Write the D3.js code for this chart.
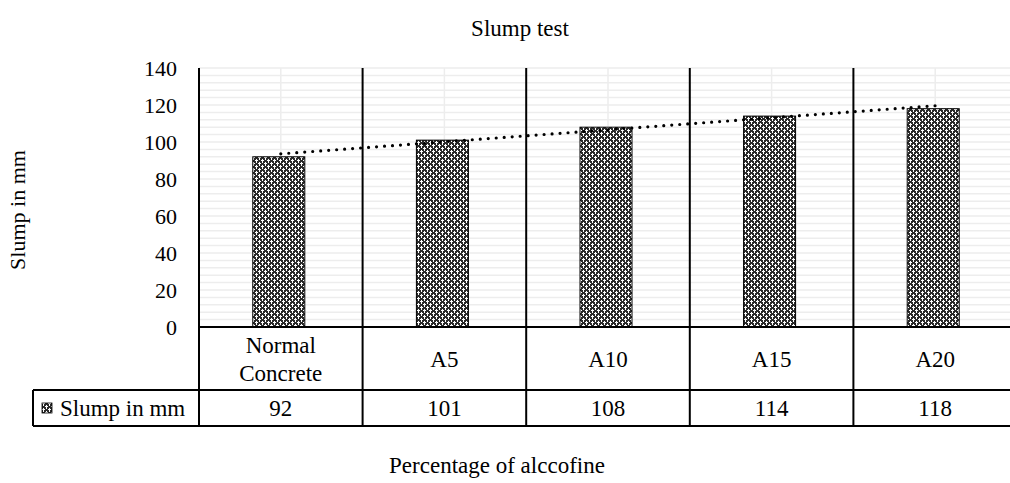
<!DOCTYPE html>
<html><head><meta charset="utf-8">
<script src="https://cdn.jsdelivr.net/npm/d3@7"></script>
<style>body{margin:0;background:#fff}svg{display:block}</style>
</head><body>
<svg id="c" width="1010" height="483" font-family="'Liberation Serif', 'Times New Roman', Times, serif"></svg>
<script>
const categories = [["Normal","Concrete"],["A5"],["A10"],["A15"],["A20"]];
const categoryKeys = ["Normal Concrete","A5","A10","A15","A20"];
const slumpValues = [92,101,108,114,118];
const yTicks = [0,20,40,60,80,100,120,140];
const seriesName = "Slump in mm";
const chartTitle = "Slump test";
const xTitle = "Percentage of alccofine";
const yTitle = "Slump in mm";

const svg = d3.select("#c");
const L = 199, R = 1017, T = 68, B = 327;
const row1 = 390, row2 = 426, legendLeft = 33;

const defs = svg.append("defs");
const pat = defs.append("pattern").attr("id","pat").attr("patternUnits","userSpaceOnUse").attr("width",6).attr("height",6);
pat.append("rect").attr("width",6).attr("height",6).attr("fill","#2a2a2a");
[[1,0,1,3],[0,1,3,1],[4,3,1,3],[3,4,3,1],[4,0,1,1],[1,3,1,1]].forEach(r=>pat.append("rect").attr("x",r[0]).attr("y",r[1]).attr("width",r[2]).attr("height",r[3]).attr("fill","#fff"));

const x = d3.scaleBand().domain(categoryKeys).range([L,R]);
const y = d3.scaleLinear().domain([0,140]).range([B,T]);

// minor gridlines
svg.append("g").selectAll("line").data(d3.range(4,141,4)).join("line")
  .attr("x1",L).attr("x2",R).attr("y1",d=>y(d)).attr("y2",d=>y(d))
  .attr("stroke","#ededed").attr("stroke-width",1.5);
// vertical gridlines at centers
svg.append("g").selectAll("line").data(categoryKeys).join("line")
  .attr("x1",d=>x(d)+x.bandwidth()/2).attr("x2",d=>x(d)+x.bandwidth()/2).attr("y1",T).attr("y2",B)
  .attr("stroke","#ededed").attr("stroke-width",1.5);

// bars
const bw = 52;
svg.append("g").selectAll("rect").data(slumpValues).join("rect")
  .attr("x",(d,i)=>x(categoryKeys[i])+x.bandwidth()/2-bw/2-2)
  .attr("y",d=>y(d)).attr("width",bw).attr("height",d=>B-y(d))
  .attr("fill","url(#pat)").attr("stroke","#000").attr("stroke-width",1);

// trendline (linear regression)
const n = slumpValues.length;
const xs = d3.range(1,n+1);
const mx = d3.mean(xs), my = d3.mean(slumpValues);
const slope = d3.sum(xs.map((v,i)=>(v-mx)*(slumpValues[i]-my)))/d3.sum(xs.map(v=>(v-mx)**2));
const icpt = my - slope*mx;
const cx = i=>x(categoryKeys[i])+x.bandwidth()/2;
svg.append("line")
  .attr("x1",cx(0)).attr("y1",y(icpt+slope*1))
  .attr("x2",cx(n-1)).attr("y2",y(icpt+slope*n))
  .attr("stroke","#000").attr("stroke-width",3.2).attr("stroke-linecap","round").attr("stroke-dasharray","0 8");

// axis / table lines
const g = svg.append("g").attr("stroke","#000").attr("stroke-width",2);
g.append("line").attr("x1",L).attr("x2",L).attr("y1",T).attr("y2",row2);
categoryKeys.slice(1).forEach(k=>g.append("line").attr("x1",x(k)).attr("x2",x(k)).attr("y1",T).attr("y2",row2));
g.append("line").attr("x1",L).attr("x2",R).attr("y1",B).attr("y2",B);
g.append("line").attr("x1",legendLeft).attr("x2",R).attr("y1",row1).attr("y2",row1);
g.append("line").attr("x1",legendLeft).attr("x2",R).attr("y1",row2).attr("y2",row2);
g.append("line").attr("x1",legendLeft).attr("x2",legendLeft).attr("y1",row1).attr("y2",row2);

// y ticks
svg.append("g").selectAll("text").data(yTicks).join("text")
  .attr("x",177).attr("y",d=>y(d)).attr("dy","0.35em").attr("text-anchor","end")
  .attr("font-size",22).text(d=>d);

// category labels
categories.forEach((lines,i)=>{
  const t = svg.append("text").attr("x",cx(i)).attr("text-anchor","middle").attr("font-size",23);
  const mid = (B+row1)/2;
  const start = mid - (lines.length-1)*14;
  lines.forEach((s,j)=>t.append("tspan").attr("x",cx(i)).attr("y",start+j*28).attr("dy","0.35em").text(s));
});
// values row
svg.append("g").selectAll("text").data(slumpValues).join("text")
  .attr("x",(d,i)=>cx(i)).attr("y",(row1+row2)/2).attr("dy","0.35em").attr("text-anchor","middle")
  .attr("font-size",23).text(d=>d);
// legend cell
svg.append("rect").attr("x",42).attr("y",403).attr("width",10).attr("height",10).attr("fill","url(#pat)").attr("stroke","#000").attr("stroke-width",0.8);
svg.append("text").attr("x",60).attr("y",(row1+row2)/2).attr("dy","0.35em").attr("font-size",23).text(seriesName);

// titles
svg.append("text").attr("x",520).attr("y",28).attr("dy","0.35em").attr("text-anchor","middle").attr("font-size",23).text(chartTitle);
svg.append("text").attr("x",497).attr("y",465).attr("dy","0.35em").attr("text-anchor","middle").attr("font-size",23).text(xTitle);
svg.append("text").attr("transform","translate(17,210) rotate(-90)").attr("dy","0.35em").attr("text-anchor","middle").attr("font-size",22).text(yTitle);
</script>
</body></html>
